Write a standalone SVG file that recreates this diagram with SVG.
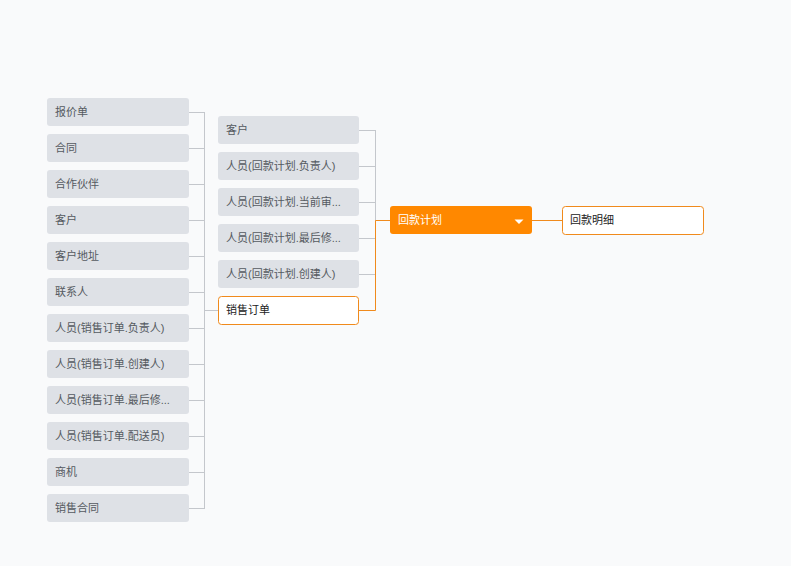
<svg xmlns="http://www.w3.org/2000/svg" width="791" height="566" viewBox="0 0 791 566">
<style>
.bg{fill:#f9fafb}
text{font-family:"Liberation Sans","Noto Sans CJK SC",sans-serif;font-size:11px}
.n rect{fill:#dee1e6}
.n text{fill:#555a61}
.w rect{fill:#ffffff;stroke:#f08a1c;stroke-width:1}
.w text{fill:#222}
.r rect{fill:#ff8800}
.r text{fill:#ffffff}
.g{stroke:#c4c7cc;stroke-width:1;fill:none}
.o{stroke:#f08a1c;stroke-width:1;fill:none}
</style>
<rect class="bg" x="0" y="0" width="791" height="566"/>
<g id="connectors">
<path class="g" d="M189 112.5H204.5M189 148.5H204.5M189 184.5H204.5M189 220.5H204.5M189 256.5H204.5M189 292.5H204.5M189 328.5H204.5M189 364.5H204.5M189 400.5H204.5M189 436.5H204.5M189 472.5H204.5M189 508.5H204.5M204.5 112V509M204.5 310.5H218"/>
<path class="g" d="M359 130.5H375.5M359 166.5H375.5M359 202.5H375.5M359 238.5H375.5M359 274.5H375.5M375.5 130V275"/>
<path class="o" d="M359 310.5H375.5V220.5H390M532 220.5H562"/>
</g>
<g id="n1" class="n"><rect x="47" y="98" width="142" height="28" rx="3"/><text x="55" y="116">报价单</text></g>
<g id="n2" class="n"><rect x="47" y="134" width="142" height="28" rx="3"/><text x="55" y="152">合同</text></g>
<g id="n3" class="n"><rect x="47" y="170" width="142" height="28" rx="3"/><text x="55" y="188">合作伙伴</text></g>
<g id="n4" class="n"><rect x="47" y="206" width="142" height="28" rx="3"/><text x="55" y="224">客户</text></g>
<g id="n5" class="n"><rect x="47" y="242" width="142" height="28" rx="3"/><text x="55" y="260">客户地址</text></g>
<g id="n6" class="n"><rect x="47" y="278" width="142" height="28" rx="3"/><text x="55" y="296">联系人</text></g>
<g id="n7" class="n"><rect x="47" y="314" width="142" height="28" rx="3"/><text x="55" y="332">人员(销售订单.负责人)</text></g>
<g id="n8" class="n"><rect x="47" y="350" width="142" height="28" rx="3"/><text x="55" y="368">人员(销售订单.创建人)</text></g>
<g id="n9" class="n"><rect x="47" y="386" width="142" height="28" rx="3"/><text x="55" y="404">人员(销售订单.最后修...</text></g>
<g id="n10" class="n"><rect x="47" y="422" width="142" height="28" rx="3"/><text x="55" y="440">人员(销售订单.配送员)</text></g>
<g id="n11" class="n"><rect x="47" y="458" width="142" height="28" rx="3"/><text x="55" y="476">商机</text></g>
<g id="n12" class="n"><rect x="47" y="494" width="142" height="28" rx="3"/><text x="55" y="512">销售合同</text></g>
<g id="m1" class="n"><rect x="218" y="116" width="141" height="28" rx="3"/><text x="226" y="134">客户</text></g>
<g id="m2" class="n"><rect x="218" y="152" width="141" height="28" rx="3"/><text x="226" y="170">人员(回款计划.负责人)</text></g>
<g id="m3" class="n"><rect x="218" y="188" width="141" height="28" rx="3"/><text x="226" y="206">人员(回款计划.当前审...</text></g>
<g id="m4" class="n"><rect x="218" y="224" width="141" height="28" rx="3"/><text x="226" y="242">人员(回款计划.最后修...</text></g>
<g id="m5" class="n"><rect x="218" y="260" width="141" height="28" rx="3"/><text x="226" y="278">人员(回款计划.创建人)</text></g>
<g id="m6" class="w"><rect x="218.5" y="296.5" width="140" height="28" rx="3"/><text x="226" y="314">销售订单</text></g>
<g id="root" class="r"><rect x="390" y="206" width="142" height="28" rx="3"/><text x="398" y="224">回款计划</text><path d="M514.5 219.5H523.5L519 224Z" fill="#ffffff"/></g>
<g id="c1" class="w"><rect x="562.5" y="206.5" width="141" height="28" rx="3"/><text x="570" y="224">回款明细</text></g>
</svg>
